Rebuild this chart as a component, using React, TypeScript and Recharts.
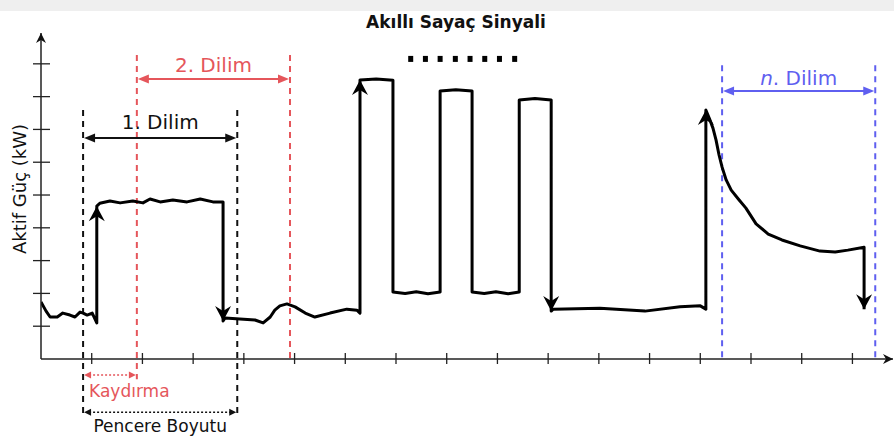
import {
  ComposedChart,
  Line,
  XAxis,
  YAxis,
  ReferenceLine,
  ReferenceDot,
} from 'recharts'

// signal trace (x = time slot, y = kW)
const SIGNAL_X = [
  0, 0.1, 0.18, 0.32, 0.43,
  0.57, 0.67, 0.77, 0.83, 0.91,
  1.01, 1.1, 1.1, 1.16, 1.36,
  1.56, 1.81, 2.01, 2.15, 2.35,
  2.6, 2.88, 3.14, 3.39, 3.59,
  3.59, 3.63, 3.92, 4.22, 4.38,
  4.52, 4.61, 4.71, 4.85, 5.01,
  5.21, 5.4, 5.7, 6.03, 6.23,
  6.29, 6.29, 6.61, 6.94, 6.94,
  7.18, 7.4, 7.63, 7.87, 7.87,
  8.18, 8.5, 8.5, 8.74, 8.97,
  9.21, 9.43, 9.43, 9.74, 10.06,
  10.06, 10.1, 11.02, 11.91, 12.6,
  13.0, 13.11, 13.11, 13.19, 13.25,
  13.31, 13.37, 13.43, 13.51, 13.61,
  13.75, 13.9, 14.1, 14.34, 14.61,
  14.97, 15.36, 15.66, 15.91, 16.23,
  16.23,
]
const SIGNAL_Y = [
  1.74, 1.46, 1.28, 1.28, 1.4,
  1.34, 1.28, 1.43, 1.4, 1.34,
  1.4, 1.1, 4.66, 4.75, 4.82,
  4.76, 4.82, 4.76, 4.88, 4.79,
  4.85, 4.79, 4.88, 4.79, 4.79,
  1.16, 1.25, 1.22, 1.19, 1.1,
  1.28, 1.49, 1.62, 1.68, 1.59,
  1.4, 1.28, 1.4, 1.52, 1.49,
  1.4, 8.51, 8.54, 8.5, 2.04,
  2.0, 2.05, 1.99, 2.04, 8.17,
  8.21, 8.17, 2.04, 2.0, 2.05,
  1.99, 2.04, 7.9, 7.94, 7.9,
  1.46, 1.52, 1.55, 1.46, 1.59,
  1.62, 1.52, 7.59, 7.29, 7.04,
  6.68, 6.22, 5.85, 5.46, 5.15,
  4.88, 4.6, 4.12, 3.81, 3.63,
  3.45, 3.29, 3.26, 3.32, 3.41,
  1.52,
]
// points of the trace that end in an arrow head
const ARROW_UP = [12, 41, 67]
const ARROW_DOWN = [25, 60, 85]

const TICKS_X = [1, 2, 3, 4, 5, 6, 7, 8, 9, 10, 11, 12, 13, 14, 15, 16]
const TICKS_Y = [1, 2, 3, 4, 5, 6, 7, 8, 9]

// window (slice) bounds
const SLICE_1 = [0.83, 3.87]
const SLICE_2 = [1.89, 4.91]
const SLICE_N = [13.43, 16.45]

// "........" after the bars
const DOTS_X = [7.29, 7.58, 7.87, 8.17, 8.46, 8.75, 9.04, 9.34]
const DOTS_Y = 9.15

const RED = '#e5565b'
const BLUE = '#5f5ff0'
const FONT = '"DejaVu Sans", Verdana, sans-serif'

const signalData = SIGNAL_X.map((x, i) => ({ x, y: SIGNAL_Y[i] }))

const renderSignalDot = (p: any) => {
  const { cx, cy, index } = p
  const dir = ARROW_UP.includes(index) ? -1 : ARROW_DOWN.includes(index) ? 1 : 0
  if (!dir || cx == null) return <g key={`sd-${index}`} />
  const pts = `${cx},${cy} ${cx - 8},${cy - dir * 15} ${cx},${cy - dir * 10} ${cx + 8},${cy - dir * 15}`
  return <polygon key={`sd-${index}`} points={pts} fill="#000" />
}

const xTick = (p: any) => (
  <line x1={p.x} x2={p.x} y1={p.y - 6} y2={p.y + 5} stroke="#222" strokeWidth={1.3} />
)
const yTick = (p: any) => (
  <line x1={p.x - 8} x2={p.x + 9} y1={p.y} y2={p.y} stroke="#222" strokeWidth={1.3} />
)

interface DimOpts {
  color: string
  width: number
  dash?: string
  head: number
  half: number
  label: React.ReactNode
  labelDy: number
  labelSize: number
  anchor?: 'middle' | 'start'
  labelDx?: number
}

// double headed arrow with its caption
const dimension = (o: DimOpts) => (p: any) => {
  const { x1, x2, y1 } = p
  const a = Math.min(x1, x2) + 1
  const b = Math.max(x1, x2) - 1
  const y = y1
  const tx = o.anchor === 'start' ? a + (o.labelDx ?? 0) : (a + b) / 2
  return (
    <g>
      <line
        x1={a + o.head - 2}
        x2={b - o.head + 2}
        y1={y}
        y2={y}
        stroke={o.color}
        strokeWidth={o.width}
        strokeDasharray={o.dash}
      />
      <polygon points={`${a},${y} ${a + o.head},${y - o.half} ${a + o.head},${y + o.half}`} fill={o.color} />
      <polygon points={`${b},${y} ${b - o.head},${y - o.half} ${b - o.head},${y + o.half}`} fill={o.color} />
      <text
        x={tx}
        y={y + o.labelDy}
        textAnchor={o.anchor ?? 'middle'}
        fill={o.color}
        fontSize={o.labelSize}
        fontFamily={FONT}
      >
        {o.label}
      </text>
    </g>
  )
}

const axisHead = (dir: 'up' | 'right') => (p: any) => {
  const { cx, cy } = p
  const pts =
    dir === 'up'
      ? `${cx},${cy} ${cx - 5},${cy + 10} ${cx},${cy + 7} ${cx + 5},${cy + 10}`
      : `${cx},${cy} ${cx - 10},${cy - 5} ${cx - 7},${cy} ${cx - 10},${cy + 5}`
  return <polygon points={pts} fill="#111" />
}

const squareDot = (p: any) => (
  <rect x={p.cx - 2.5} y={p.cy - 3} width={5} height={6} fill="#000" />
)

export default function App() {
  return (
    <div style={{ position: 'absolute', left: 0, top: 0, width: 894, height: 439, background: '#fff', overflow: 'hidden' }}>
      <div style={{ position: 'absolute', left: 0, top: 0, width: 894, height: 11, background: '#efefef' }} />
      <div style={{ position: 'absolute', left: 0, top: 0 }}>
        <ComposedChart width={894} height={439} margin={{ top: 33, right: 1, bottom: 50, left: 0 }}>
          <XAxis
            type="number"
            dataKey="x"
            domain={[0, 16.8]}
            ticks={TICKS_X}
            allowDataOverflow
            height={30}
            tickSize={0}
            tickMargin={0}
            tickLine={false}
            tick={xTick}
            axisLine={{ stroke: '#222', strokeWidth: 1.5 }}
          />
          <YAxis
            type="number"
            domain={[0, 9.94]}
            ticks={TICKS_Y}
            allowDataOverflow
            width={41}
            tickSize={0}
            tickMargin={0}
            tickLine={false}
            tick={yTick}
            axisLine={{ stroke: '#222', strokeWidth: 1.5 }}
          />

          {/* slice borders */}
          {SLICE_1.map((x) => (
            <ReferenceLine key={`b${x}`} segment={[{ x, y: 7.59 }, { x, y: -1.71 }]} ifOverflow="visible"
              stroke="#111" strokeWidth={2} strokeDasharray="6 5" />
          ))}
          <ReferenceLine segment={[{ x: SLICE_2[0], y: 9.27 }, { x: SLICE_2[0], y: -0.62 }]} ifOverflow="visible"
            stroke={RED} strokeWidth={2} strokeDasharray="6 5" />
          <ReferenceLine segment={[{ x: SLICE_2[1], y: 9.27 }, { x: SLICE_2[1], y: 0 }]} ifOverflow="visible"
            stroke={RED} strokeWidth={2} strokeDasharray="6 5" />
          {SLICE_N.map((x) => (
            <ReferenceLine key={`n${x}`} segment={[{ x, y: 8.96 }, { x, y: 0 }]} ifOverflow="visible"
              stroke={BLUE} strokeWidth={2} strokeDasharray="6 5" />
          ))}

          {/* slice dimensions */}
          <ReferenceLine
            segment={[{ x: SLICE_1[0], y: 6.74 }, { x: SLICE_1[1], y: 6.74 }]}
            ifOverflow="visible"
            shape={dimension({ color: '#111', width: 2, head: 11, half: 4.5, label: '1. Dilim', labelDy: -9, labelSize: 20 })}
          />
          <ReferenceLine
            segment={[{ x: SLICE_2[0], y: 8.54 }, { x: SLICE_2[1], y: 8.54 }]}
            ifOverflow="visible"
            shape={dimension({ color: RED, width: 2, head: 11, half: 4.5, label: '2. Dilim', labelDy: -7, labelSize: 20 })}
          />
          <ReferenceLine
            segment={[{ x: SLICE_N[0], y: 8.17 }, { x: SLICE_N[1], y: 8.17 }]}
            ifOverflow="visible"
            shape={dimension({
              color: BLUE, width: 2, head: 11, half: 4.5, labelDy: -6, labelSize: 20,
              label: (<><tspan fontStyle="italic">n</tspan>. Dilim</>),
            })}
          />
          <ReferenceLine
            segment={[{ x: SLICE_1[0], y: -0.49 }, { x: SLICE_2[0], y: -0.49 }]}
            ifOverflow="visible"
            shape={dimension({ color: RED, width: 1.5, dash: '2 2', head: 7, half: 3.5, label: 'Kaydırma', labelDy: 22, labelSize: 17, anchor: 'start', labelDx: 5 })}
          />
          <ReferenceLine
            segment={[{ x: SLICE_1[0], y: -1.62 }, { x: SLICE_1[1], y: -1.62 }]}
            ifOverflow="visible"
            shape={dimension({ color: '#111', width: 1.5, dash: '2 2', head: 7, half: 3.5, label: 'Pencere Boyutu', labelDy: 20, labelSize: 17 })}
          />

          {DOTS_X.map((x) => (
            <ReferenceDot key={`dot${x}`} x={x} y={DOTS_Y} r={3} ifOverflow="visible" shape={squareDot} />
          ))}

          <ReferenceDot x={0} y={9.94} r={4} ifOverflow="visible" shape={axisHead('up')} />
          <ReferenceDot x={16.8} y={0} r={4} ifOverflow="visible" shape={axisHead('right')} />

          <Line
            data={signalData}
            dataKey="y"
            type="linear"
            stroke="#000"
            strokeWidth={3}
            strokeLinejoin="round"
            dot={renderSignalDot}
            activeDot={false}
            isAnimationActive={false}
          />
        </ComposedChart>
      </div>
      <svg width={894} height={439} style={{ position: 'absolute', left: 0, top: 0, pointerEvents: 'none' }}>
        <text x={456} y={28} textAnchor="middle" fontFamily={FONT} fontWeight="bold" fontSize={17} fill="#111">
          Akıllı Sayaç Sinyali
        </text>
        <text
          x={26}
          y={189}
          transform="rotate(-90 26 189)"
          textAnchor="middle"
          fontFamily={FONT}
          fontSize={18}
          fill="#111"
        >
          Aktif Güç (kW)
        </text>
      </svg>
    </div>
  )
}
